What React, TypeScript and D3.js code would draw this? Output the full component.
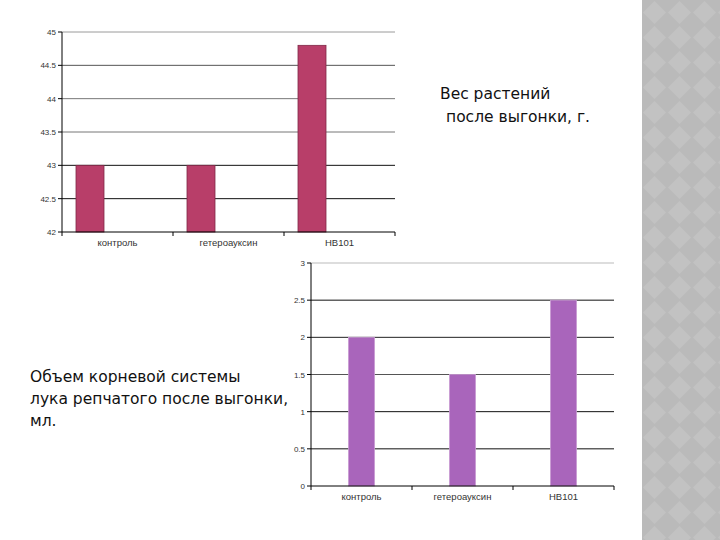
import React from "react";
import * as d3 from "d3";

const categories = ["контроль", "гетероауксин", "HB101"];
const weightValues = [43, 43, 44.8];
const weightTicks = [42, 42.5, 43, 43.5, 44, 44.5, 45];
const rootValues = [2, 1.5, 2.5];
const rootTicks = [0, 0.5, 1, 1.5, 2, 2.5, 3];

const grid1Colors: Record<string, string> = { "45": "#9a9a9a", "44.5": "#555", "44": "#777", "43.5": "#777", "43": "#111", "42.5": "#111" };
const grid2Colors: Record<string, string> = { "3": "#bbbbbb", "2.5": "#111", "2": "#222", "1.5": "#555", "1": "#111", "0.5": "#111" };

function Chart(props: {
  x0: number; x1: number; y0: number; y1: number;
  domain: [number, number]; ticks: number[]; values: number[];
  barW: number; barOffset: number; fill: string; stroke: string;
  gridColors: Record<string, string>; labelY: number;
}) {
  const { x0, x1, y0, y1, domain, ticks, values, barW, barOffset, fill, stroke, gridColors, labelY } = props;
  const x = d3.scaleBand<string>().domain(categories).range([x0, x1]);
  const y = d3.scaleLinear().domain(domain).range([y1, y0]);
  const fmt = (v: number) => String(v);
  return (
    <g>
      {ticks.filter((t) => t !== domain[0]).map((t) => (
        <line key={"g" + t} x1={x0} x2={x1} y1={y(t)} y2={y(t)} stroke={gridColors[String(t)] || "#333"} strokeWidth={1} />
      ))}
      {values.map((v, i) => {
        const bx = (x(categories[i]) as number) + barOffset;
        return (
          <rect key={"b" + i} x={bx} y={y(v)} width={barW} height={y(domain[0]) - y(v)} fill={fill} stroke={stroke} strokeWidth={0.8} />
        );
      })}
      <line x1={x0} x2={x0} y1={y0} y2={y1} stroke="#000" strokeWidth={1} />
      <line x1={x0} x2={x1} y1={y1} y2={y1} stroke="#000" strokeWidth={1} />
      {ticks.map((t) => (
        <g key={"t" + t}>
          <line x1={x0 - 4} x2={x0} y1={y(t)} y2={y(t)} stroke="#000" />
          <text x={x0 - 6} y={y(t) + 3} textAnchor="end" fontSize={8} fontFamily="Liberation Sans, Arial, sans-serif" fill="#333">{fmt(t)}</text>
        </g>
      ))}
      {categories.map((c, i) => (
        <g key={"c" + c}>
          <line x1={(x(c) as number)} x2={(x(c) as number)} y1={y1} y2={y1 + 4} stroke="#000" />
          {i === categories.length - 1 && <line x1={x1} x2={x1} y1={y1} y2={y1 + 4} stroke="#000" />}
          <text x={(x(c) as number) + x.bandwidth() / 2} y={labelY} textAnchor="middle" fontSize={9.5} fontFamily="Liberation Sans, Arial, sans-serif" fill="#333">{c}</text>
        </g>
      ))}
    </g>
  );
}

export default function App() {
  const textStyle = { fontFamily: "DejaVu Sans, Verdana, sans-serif", fontSize: 15.5, fill: "#111" } as const;
  return (
    <svg width={720} height={540} style={{ position: "absolute", left: 0, top: 0, background: "#fff" }}>
      <defs>
        <pattern id="dia" width={25} height={25} patternUnits="userSpaceOnUse" x={642} y={0}>
          <rect width={25} height={25} fill="#bababa" />
          <path d="M12.5 1 L24 12.5 L12.5 24 L1 12.5 Z" fill="#c2c2c2" />
        </pattern>
      </defs>
      <rect x={0} y={0} width={720} height={540} fill="#fff" />
      <rect x={642} y={0} width={78} height={540} fill="url(#dia)" />
      <Chart x0={62} x1={395} y0={32} y1={232} domain={[42, 45]} ticks={weightTicks} values={weightValues}
        barW={28} barOffset={14} fill="#b83e69" stroke="#7f2846" gridColors={grid1Colors} labelY={246} />
      <Chart x0={311} x1={614} y0={263} y1={486} domain={[0, 3]} ticks={rootTicks} values={rootValues}
        barW={26} barOffset={37.5} fill="#a965bb" stroke="#c79ad2" gridColors={grid2Colors} labelY={500} />
      <text x={440} y={99} {...textStyle}>Вес растений</text>
      <text x={446} y={122} {...textStyle}>после выгонки, г.</text>
      <text x={30} y={382} {...textStyle}>Объем корневой системы</text>
      <text x={30} y={404} {...textStyle}>лука репчатого после выгонки,</text>
      <text x={30} y={426} {...textStyle}>мл.</text>
    </svg>
  );
}
